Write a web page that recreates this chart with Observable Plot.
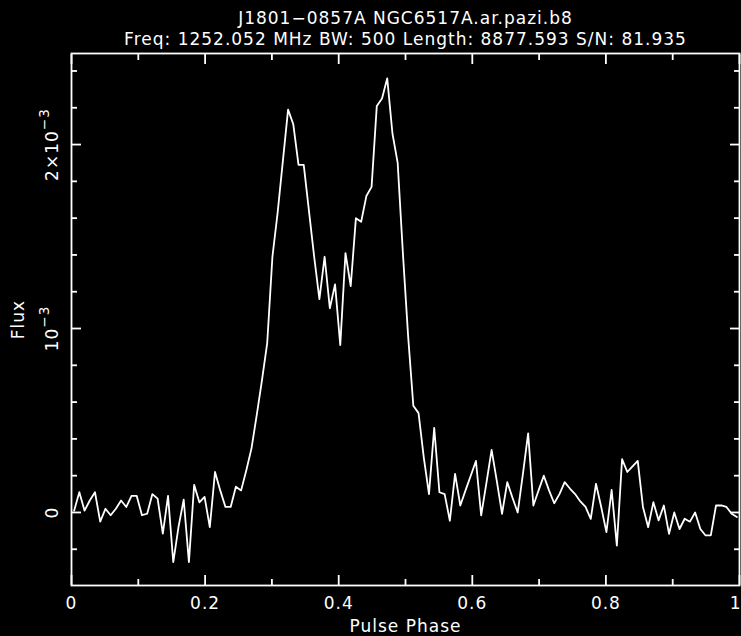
<!DOCTYPE html>
<html>
<head>
<meta charset="utf-8">
<script src="https://cdn.jsdelivr.net/npm/d3@7"></script>
<script src="https://cdn.jsdelivr.net/npm/@observablehq/plot@0.6"></script>
<style>
  html, body { margin: 0; padding: 0; background: #000; }
</style>
</head>
<body>
<div id="chart"></div>
<script>
// ---- text ----
const titleText = "J1801−0857A NGC6517A.ar.pazi.b8";
const subtitleText = "Freq: 1252.052 MHz BW: 500 Length: 8877.593 S/N: 81.935";
const xLabel = "Pulse Phase";
const yLabel = "Flux";

// ---- data: flux per phase bin, in units of 1e-4 ----
const nBins = 128;
const fluxE4 = [
  0.1, 1.1, 0.1, 0.65, 1.1, -0.5, 0.2, -0.15, 0.2, 0.65,
  0.3, 0.9, 0.9, -0.15, -0.07, 1.0, 0.75, -1.15, 0.9, -2.7,
  -0.8, 0.7, -2.7, 1.5, 0.55, 0.85, -0.8, 2.2, 1.2, 0.3,
  0.3, 1.4, 1.2, 2.3, 3.5, 5.3, 7.2, 9.2, 13.9, 16.3,
  19.1, 21.9, 21.1, 18.9, 18.9, 16.4, 13.9, 11.6, 13.9, 11.1,
  12.4, 9.1, 14.1, 12.3, 16.0, 15.8, 17.2, 17.7, 22.1, 22.5,
  23.6, 20.6, 19.0, 14.1, 9.6, 5.8, 5.4, 3.0, 1.0, 4.6,
  1.1, 1.0, -0.45, 2.1, 0.38, 1.2, 2.0, 2.8, -0.16, 1.6,
  3.4, 1.7, -0.07, 1.65, 0.8, 0.0, 2.1, 4.3, 0.38, 1.2,
  2.0, 1.2, 0.5, 1.0, 1.65, 1.3, 1.0, 0.6, 0.3, -0.35,
  1.56, 0.3, -1.07, 1.23, -1.8, 2.9, 2.2, 2.5, 2.8, 0.3,
  -0.8, 0.56, -0.43, 0.38, -1.16, 0.0, -0.9, -0.34, -0.5, 0.0,
  -0.9, -1.25, -1.25, 0.38, 0.38, 0.3, -0.07, -0.25
];

// ---- ticks ----
const xMajorTicks = [0, 0.2, 0.4, 0.6, 0.8, 1];
const xMinorTicks = [0.1, 0.3, 0.5, 0.7, 0.9];
const xTickLabels = ["0", "0.2", "0.4", "0.6", "0.8", "1"];
const yMajorTicks = [0, 0.001, 0.002];
const yMinorTicks = [-0.0002, 0.0002, 0.0004, 0.0006, 0.0008, 0.0012, 0.0014, 0.0016, 0.0018, 0.0022, 0.0024];
const yTickLabels = ["0", "10⁻³", "2×10⁻³"];
const xDomain = [0, 1];
const yDomain = [-0.000397, 0.002495];

const data = fluxE4.map((v, i) => ({phase: (i + 0.5) / nBins, flux: v * 1e-4}));

const fg = "#ffffff";
const font = "DejaVu Sans";
const fs = 17;
const lw = 1.8;
const lastX = xMajorTicks.length - 1;

const plot = Plot.plot({
  width: 741,
  height: 636,
  marginTop: 53,
  marginBottom: 51,
  marginLeft: 71,
  marginRight: 2,
  style: {background: "#000", color: fg, fontFamily: font, fontSize: fs + "px", letterSpacing: "1px"},
  x: {domain: xDomain, axis: null},
  y: {domain: yDomain, axis: null},
  marks: [
    Plot.line(data, {x: "phase", y: "flux", stroke: fg, strokeWidth: 1.8}),
    Plot.axisX(xMajorTicks, {anchor: "bottom", tickSize: -10, fill: "none", stroke: fg, strokeWidth: lw, label: null}),
    Plot.axisX(xMinorTicks, {anchor: "bottom", tickSize: -6, fill: "none", stroke: fg, strokeWidth: lw, label: null}),
    Plot.axisX(xMajorTicks, {anchor: "top", tickSize: -10, fill: "none", stroke: fg, strokeWidth: lw, label: null}),
    Plot.axisX(xMinorTicks, {anchor: "top", tickSize: -6, fill: "none", stroke: fg, strokeWidth: lw, label: null}),
    Plot.axisY(yMajorTicks, {anchor: "left", tickSize: -10, fill: "none", stroke: fg, strokeWidth: lw, label: null}),
    Plot.axisY(yMinorTicks, {anchor: "left", tickSize: -6, fill: "none", stroke: fg, strokeWidth: lw, label: null}),
    Plot.axisY(yMajorTicks, {anchor: "right", tickSize: -10, fill: "none", stroke: fg, strokeWidth: lw, label: null}),
    Plot.axisY(yMinorTicks, {anchor: "right", tickSize: -6, fill: "none", stroke: fg, strokeWidth: lw, label: null}),
    Plot.frame({stroke: fg, strokeWidth: lw}),
    Plot.text(xMajorTicks.slice(0, lastX), {x: d => d, text: (d, i) => xTickLabels[i], frameAnchor: "bottom", dy: 18, lineAnchor: "middle", fill: fg, fontSize: fs, fontFamily: font}),
    Plot.text(xMajorTicks.slice(lastX), {x: d => d, text: () => xTickLabels[lastX], frameAnchor: "bottom", dy: 18, dx: 2, textAnchor: "end", lineAnchor: "middle", fill: fg, fontSize: fs, fontFamily: font}),
    Plot.text(yMajorTicks, {y: d => d, text: (d, i) => yTickLabels[i], frameAnchor: "left", dx: -14, rotate: -90, textAnchor: "middle", lineAnchor: "bottom", fill: fg, fontSize: fs, fontFamily: font}),
    Plot.text([yLabel], {text: d => d, frameAnchor: "left", dx: -48, rotate: -90, textAnchor: "middle", lineAnchor: "bottom", fill: fg, fontSize: fs, fontFamily: font}),
    Plot.text([xLabel], {text: d => d, frameAnchor: "bottom", dy: 41, lineAnchor: "middle", fill: fg, fontSize: fs, fontFamily: font}),
    Plot.text([titleText], {text: d => d, frameAnchor: "top", dy: -35, lineAnchor: "middle", fill: fg, fontSize: fs, fontFamily: font}),
    Plot.text([subtitleText], {text: d => d, frameAnchor: "top", dy: -14, lineAnchor: "middle", fill: fg, fontSize: fs, fontFamily: font})
  ]
});

// superscript exponents as real text in tspans
d3.select(plot).selectAll("text").each(function () {
  const t = this.textContent;
  const k = t.indexOf("⁻³");
  if (k >= 0 && this.childElementCount === 0) {
    const sel = d3.select(this);
    sel.text(null);
    sel.append("tspan").text(t.slice(0, k));
    sel.append("tspan").attr("dy", "-0.6em").attr("font-size", "0.8em").text("−3");
  }
});

document.getElementById("chart").appendChild(plot);
</script>
</body>
</html>
